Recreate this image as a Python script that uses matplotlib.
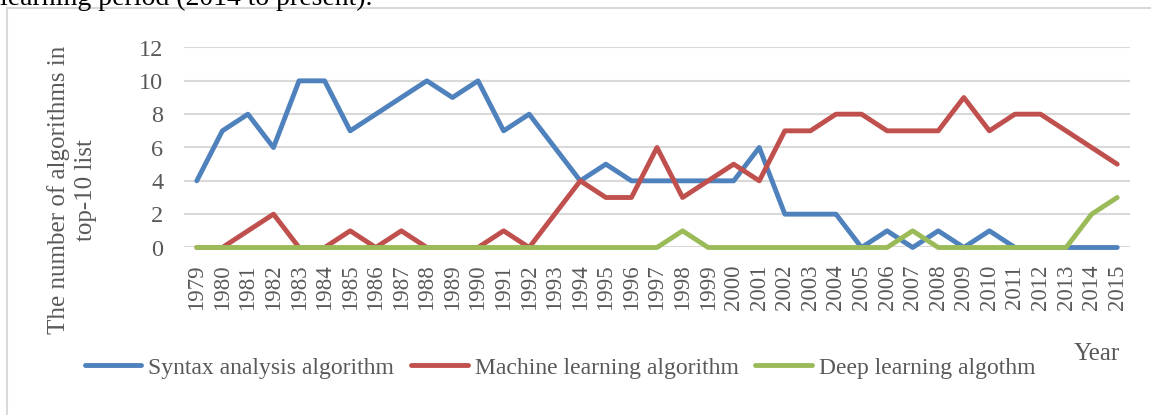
import numpy as np
import matplotlib
matplotlib.use('Agg')
import matplotlib.pyplot as plt
from matplotlib.patches import Rectangle

plt.rcParams['font.family'] = ['Liberation Serif', 'DejaVu Serif']

years = [str(y) for y in range(1979, 2016)]

# number of algorithms in the top-10 list per year
syntax = [4, 7, 8, 6, 10, 10, 7, 8, 9, 10, 9, 10, 7, 8, 6, 4, 5, 4, 4, 4,
          4, 4, 6, 2, 2, 2, 0, 1, 0, 1, 0, 1, 0, 0, 0, 0, 0]
machine = [0, 0, 1, 2, 0, 0, 1, 0, 1, 0, 0, 0, 1, 0, 2, 4, 3, 3, 6, 3,
           4, 5, 4, 7, 7, 8, 8, 7, 7, 7, 9, 7, 8, 8, 7, 6, 5]
deep = [0, 0, 0, 0, 0, 0, 0, 0, 0, 0, 0, 0, 0, 0, 0, 0, 0, 0, 0, 1,
        0, 0, 0, 0, 0, 0, 0, 0, 1, 0, 0, 0, 0, 0, 0, 2, 3]
yticks = [0, 2, 4, 6, 8, 10, 12]

W, H = 1151, 415
gray = '#595959'
grid = '#d9d9d9'

fig = plt.figure(figsize=(W / 100, H / 100), dpi=100)

# frame around the chart (only left/top edges fall inside the crop)
fig.patches.append(Rectangle((7 / W, -0.2), 2, 1 - 8 / H + 0.2, transform=fig.transFigure,
                             fill=False, edgecolor=grid, lw=1.5))

# cut-off text from the page above
fig.text(0.0, 1 - 5 / H, 'learning period (2014 to present).', fontsize=20,
         color='black', ha='left', va='baseline')

ax = fig.add_axes([184 / W, 1 - 247.5 / H, (1130 - 184) / W, 200 / H])
x = np.arange(len(years))
ax.plot(x, syntax, color='#4f81bd', lw=3.5, label='Syntax analysis algorithm',
        clip_on=False, solid_capstyle='round', zorder=3)
ax.plot(x, machine, color='#c0504d', lw=3.5, label='Machine learning algorithm',
        clip_on=False, solid_capstyle='round', zorder=3)
ax.plot(x, deep, color='#9bbb59', lw=3.5, label='Deep learning algothm',
        clip_on=False, solid_capstyle='round', zorder=3)

ax.set_xlim(-0.5, len(years) - 0.5)
ax.set_ylim(0, 12)
ax.set_yticks(yticks)
ax.set_xticks(x)
ax.set_xticklabels(years, rotation=90)
for t in yticks:
    ax.axhline(t, color=grid, lw=1.5, zorder=1)
for s in ax.spines.values():
    s.set_visible(False)
ax.tick_params(axis='both', length=0, labelsize=16.5, colors=gray)
ax.tick_params(axis='y', labelsize=17.5, pad=15)
ax.tick_params(axis='x', pad=12)

fig.text(72 / W, 1 - 190 / H, 'The number of algorithms in\ntop-10 list', rotation=90,
         ha='center', va='center', multialignment='center', fontsize=18, color=gray,
         linespacing=1.3)
fig.text(1097 / W, 1 - 354 / H, 'Year', ha='center', va='center', fontsize=18, color=gray)

leg = fig.legend(loc='center', bbox_to_anchor=(560 / W, 1 - 368 / H), ncol=3, frameon=False,
                 fontsize=17, handlelength=2.4, handletextpad=0.3, columnspacing=0.7)
for t in leg.get_texts():
    t.set_color(gray)
for h in leg.get_lines():
    h.set_linewidth(3.5)

fig.savefig('out.png', dpi=100)
